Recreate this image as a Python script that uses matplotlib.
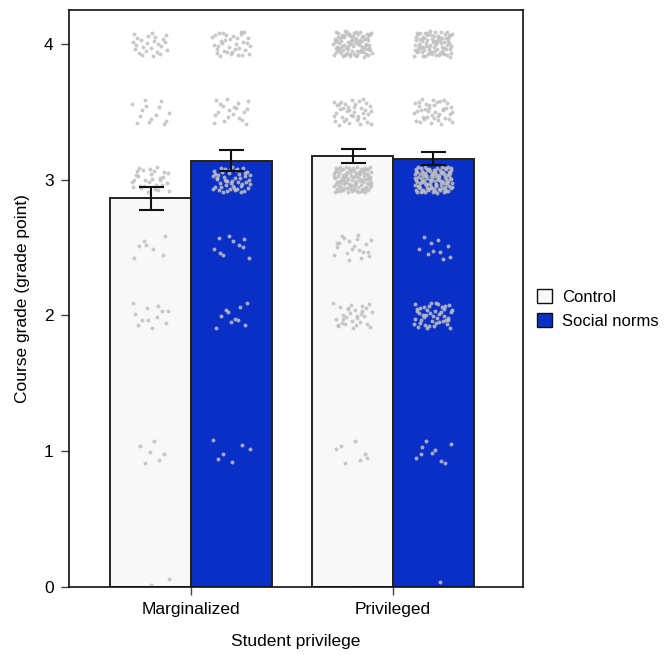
import matplotlib
matplotlib.use("Agg")
import matplotlib.pyplot as plt
from matplotlib.patches import Patch
import numpy as np

plt.rcParams['font.family'] = ['Liberation Sans', 'DejaVu Sans']

groups = ["Marginalized", "Privileged"]
conditions = ["Control", "Social norms"]
colors = ["#f8f8f8", "#0a2fc6"]

# bar means and error bar limits
means = {"Control": [2.864, 3.173], "Social norms": [3.140, 3.155]}
err_lo = {"Control": [2.777, 3.121], "Social norms": [3.064, 3.106]}
err_hi = {"Control": [2.947, 3.224], "Social norms": [3.217, 3.204]}

# individual students: grade levels and counts per group/condition
grade_levels = [4.0, 3.5, 3.0, 2.5, 2.0, 1.0, 0.0]
counts = {
    ("Marginalized", "Control"): [25, 14, 30, 7, 12, 6, 3],
    ("Marginalized", "Social norms"): [35, 20, 50, 10, 10, 6, 0],
    ("Privileged", "Control"): [90, 40, 110, 20, 30, 7, 1],
    ("Privileged", "Social norms"): [80, 40, 110, 10, 45, 9, 1],
}


def halton(n, base, start):
    # deterministic spread for the jitter (no random numbers)
    out = []
    for i in range(start, start + n):
        f, r = 1.0, 0.0
        while i > 0:
            f /= base
            r += f * (i % base)
            i //= base
        out.append(r)
    return np.array(out)


fig = plt.figure(figsize=(6.68, 6.55), dpi=100)
ax = fig.add_axes([0.1033, 0.1038, 0.6796, 0.881])

width = 0.4
x = np.arange(len(groups))
for j, cond in enumerate(conditions):
    xs = x + (j - 0.5) * width
    ax.bar(xs, means[cond], width=width, color=colors[j], edgecolor="#222222",
           linewidth=1.4, zorder=1)

# jittered points
k = 1
for gi, g in enumerate(groups):
    for j, cond in enumerate(conditions):
        xc = gi + (j - 0.5) * width
        for lvl, n in zip(grade_levels, counts[(g, cond)]):
            if n == 0:
                continue
            jx = (halton(n, 2, k) - 0.5) * 0.19
            jy = (halton(n, 3, k) - 0.5) * 0.19
            k += n
            ax.scatter(xc + jx, lvl + jy, s=8, color="#c0c0c0", alpha=0.85,
                       linewidths=0, zorder=2)

for j, cond in enumerate(conditions):
    xs = x + (j - 0.5) * width
    m = np.array(means[cond])
    lo = m - np.array(err_lo[cond])
    hi = np.array(err_hi[cond]) - m
    ax.errorbar(xs, m, yerr=[lo, hi], fmt="none", ecolor="#111111",
                elinewidth=1.5, capsize=9, capthick=1.5, zorder=3)

ax.set_xlim(-0.604, 1.644)
ax.set_ylim(0, 4.25)
ax.set_xticks(x)
ax.set_xticklabels(groups, fontsize=12.5)
ax.set_yticks([0, 1, 2, 3, 4])
ax.set_yticklabels(["0", "1", "2", "3", "4"], fontsize=12.5)
ax.tick_params(axis="both", length=6, width=1, color="#444444", pad=5)
for s in ax.spines.values():
    s.set_linewidth(1.2)
    s.set_color("#111111")

ax.set_xlabel("Student privilege", fontsize=12.5, labelpad=12)
ax.set_ylabel("Course grade (grade point)", fontsize=12.5, labelpad=10)

handles = [Patch(facecolor=colors[j], edgecolor="#111111", linewidth=1.0,
                 label=conditions[j]) for j in range(2)]
fig.legend(handles=handles, loc="center left", bbox_to_anchor=(0.786, 0.528),
           frameon=False, fontsize=12, handlelength=0.9, handleheight=0.9,
           handletextpad=0.6, labelspacing=0.5, borderpad=0.2)

fig.savefig("out.png", dpi=100)
